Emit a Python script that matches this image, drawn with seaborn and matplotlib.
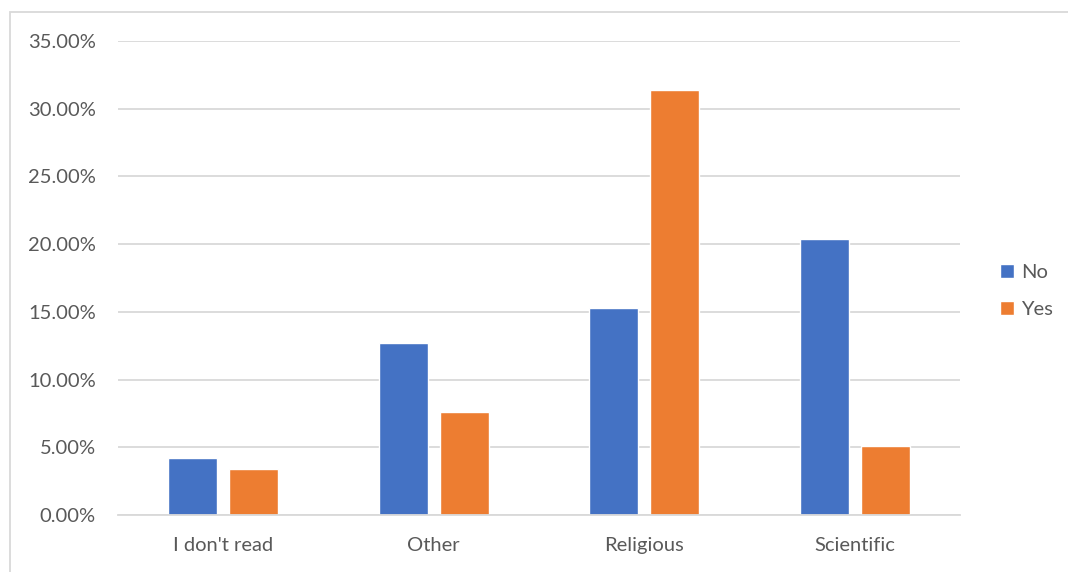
import matplotlib
matplotlib.use("Agg")
import matplotlib.pyplot as plt
import seaborn as sns
import pandas as pd
from matplotlib.ticker import FuncFormatter, MultipleLocator
from matplotlib.patches import Rectangle, Patch

categories = ["I don't read", "Other", "Religious", "Scientific"]
no_values = [0.0421, 0.1270, 0.1529, 0.2036]
yes_values = [0.0338, 0.0761, 0.3137, 0.0510]
series = ["No", "Yes"]
colors = {"No": "#4472C4", "Yes": "#ED7D31"}

df = pd.DataFrame({
    "category": categories * 2,
    "value": no_values + yes_values,
    "series": ["No"] * len(categories) + ["Yes"] * len(categories),
})

sns.set_theme(style="white")
plt.rcParams['font.family'] = ['Lato', 'DejaVu Sans']

fig = plt.figure(figsize=(10.68, 5.72), dpi=100)
ax = fig.add_axes([118/1068, 1-515/572, (960-118)/1068, (515-41)/572])

sns.barplot(data=df, x="category", y="value", hue="series", palette=colors,
            width=0.58, gap=0.2, ax=ax, legend=False, saturation=1)

ax.set_ylim(0, 0.35)
ax.yaxis.set_major_locator(MultipleLocator(0.05))
ax.yaxis.set_major_formatter(FuncFormatter(lambda v, p: f"{v*100:.2f}%"))
ax.grid(axis="y", color="#d9d9d9", linewidth=1.3)
ax.set_axisbelow(True)
for s in ["top", "right", "left"]:
    ax.spines[s].set_visible(False)
ax.spines["bottom"].set_color("#d9d9d9")
ax.spines["bottom"].set_linewidth(1.3)
ax.set_xlabel("")
ax.set_ylabel("")
ax.tick_params(axis="both", length=0, labelsize=14.5, colors="#595959")
ax.tick_params(axis="y", pad=16)
ax.tick_params(axis="x", pad=16)
ax.set_xlim(-0.5, 3.5)

handles = [Patch(facecolor=colors[s], label=s) for s in series]
fig.legend(handles=handles, loc="center left", bbox_to_anchor=(982/1068, 1-291/572),
           frameon=False, fontsize=14.5, labelcolor="#595959",
           handlelength=0.7, handleheight=0.7, handletextpad=0.35, labelspacing=1.0)

fig.patches.append(Rectangle((10/1068, -0.1), 1.2, 1-12/572+0.1, transform=fig.transFigure,
                             fill=False, edgecolor="#d9d9d9", linewidth=1.3))

fig.savefig("out.png", dpi=100)
